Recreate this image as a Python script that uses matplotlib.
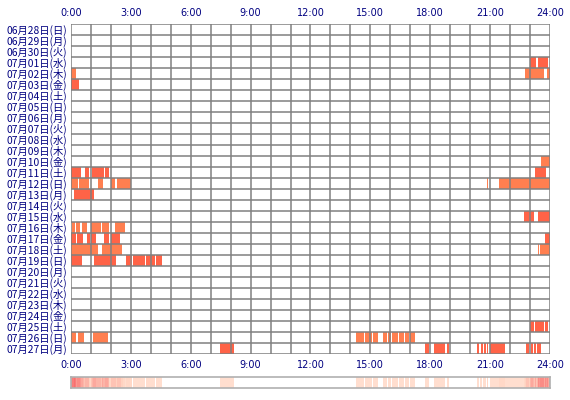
import numpy as np
import matplotlib
matplotlib.use('Agg')
import matplotlib.pyplot as plt
from matplotlib.colors import LinearSegmentedColormap

plt.rcParams['font.family'] = ['Noto Sans CJK JP', 'DejaVu Sans']

# 日付ラベル
days = ['06月28日(日)', '06月29日(月)', '06月30日(火)', '07月01日(水)', '07月02日(木)',
        '07月03日(金)', '07月04日(土)', '07月05日(日)', '07月06日(月)', '07月07日(火)',
        '07月08日(水)', '07月09日(木)', '07月10日(金)', '07月11日(土)', '07月12日(日)',
        '07月13日(月)', '07月14日(火)', '07月15日(水)', '07月16日(木)', '07月17日(金)',
        '07月18日(土)', '07月19日(日)', '07月20日(月)', '07月21日(火)', '07月22日(水)',
        '07月23日(木)', '07月24日(金)', '07月25日(土)', '07月26日(日)', '07月27日(月)']

# 各日の活動時間帯 (開始時, 終了時)
sessions = [
    [], [], [],
    [(23.0, 23.3), (23.4, 23.9)],
    [(0.0, 0.25), (22.75, 23.7), (23.85, 24.0)],
    [(0.0, 0.38)],
    [], [], [], [], [], [],
    [(23.55, 24.0)],
    [(0.0, 0.5), (0.7, 0.9), (1.03, 1.67), (1.7, 1.9), (23.25, 23.8)],
    [(0.0, 0.35), (0.4, 0.9), (1.35, 1.6), (1.98, 2.18), (2.3, 3.03),
     (20.83, 20.9), (21.45, 24.0)],
    [(0.15, 1.15)],
    [],
    [(22.7, 23.2), (23.4, 24.0)],
    [(0.07, 0.2), (0.27, 0.45), (0.57, 0.8), (1.0, 1.48), (1.55, 1.88), (2.2, 2.7)],
    [(0.0, 0.23), (0.3, 0.58), (0.8, 0.93), (1.0, 1.23), (1.65, 1.78), (1.82, 1.88),
     (1.98, 2.48), (23.75, 24.0)],
    [(0.0, 1.33), (1.55, 2.58), (23.4, 23.43), (23.5, 24.0)],
    [(0.0, 0.55), (1.15, 2.25), (2.75, 3.05), (3.1, 3.7), (3.75, 4.2), (4.25, 4.55)],
    [], [], [], [], [],
    [(23.0, 23.2), (23.25, 23.7), (23.75, 23.9)],
    [(0.0, 0.25), (0.35, 0.65), (1.1, 1.85),
     (14.3, 14.68), (14.75, 15.07), (15.15, 15.38), (15.62, 15.83), (15.9, 16.03),
     (16.1, 16.38), (16.45, 16.67), (16.72, 16.92), (16.97, 17.25)],
    [(7.45, 8.15), (17.72, 17.95), (18.17, 18.75), (18.82, 18.95),
     (20.35, 20.45), (20.52, 20.62), (20.67, 20.78), (20.83, 20.9), (20.98, 21.75),
     (22.82, 22.95), (23.03, 23.17), (23.22, 23.28), (23.37, 23.57)],
]

hour_ticks = [0, 3, 6, 9, 12, 15, 18, 21, 24]
hour_labels = ['0:00', '3:00', '6:00', '9:00', '12:00', '15:00', '18:00', '21:00', '24:00']

navy = '#000080'
grid_col = '#808080'

fig = plt.figure(figsize=(5.7, 4.0), dpi=100)
ax = fig.add_axes([71 / 570, 1 - 354 / 400, 479 / 570, 330 / 400])

for i, segs in enumerate(sessions):
    # 偶数行はコーラル、奇数行はトマト色
    col = '#FF7F50' if i % 2 == 0 else '#FF6347'
    if segs:
        ax.broken_barh([(s, e - s) for s, e in segs], (i, 1), facecolors=col, lw=0)

ax.set_xlim(0, 24)
ax.set_ylim(len(days), 0)
for h in range(25):
    ax.axvline(h, color=grid_col, lw=1.1, zorder=3)
for r in range(len(days) + 1):
    ax.axhline(r, color=grid_col, lw=1.1, zorder=3)
for s in ax.spines.values():
    s.set_visible(False)

ax.set_yticks(np.arange(len(days)) + 0.5)
ax.set_yticklabels(days, color=navy, fontsize=7.4)
ax.set_xticks(hour_ticks)
ax.set_xticklabels(hour_labels, color=navy, fontsize=7, family='DejaVu Sans')
ax.tick_params(axis='y', length=0, pad=3)
ax.tick_params(axis='x', length=0, top=True, labeltop=True, pad=4)
for t in ax.xaxis.get_major_ticks():
    t.label2.set_y(1.0)
ax.xaxis.set_tick_params(which='major', pad=4)

# 時間帯ごとの頻度バー
minutes = np.arange(24 * 60) / 60.0 + 1 / 120
counts = np.zeros(len(minutes))
for segs in sessions:
    for s, e in segs:
        counts += (minutes >= s) & (minutes < e)

cmap = LinearSegmentedColormap.from_list(
    'dens', [(0, '#FFFFFF'), (0.01, '#FFE4D6'), (0.3, '#FFD2C0'), (1, '#F87070')])
bx = fig.add_axes([71 / 570, 1 - 388 / 400, 479 / 570, 11 / 400])
bx.imshow(counts[np.newaxis, :], aspect='auto', cmap=cmap, vmin=0, vmax=counts.max(),
          extent=(0, 24, 0, 1), interpolation='nearest')
bx.set_xticks([])
bx.set_yticks([])
for s in bx.spines.values():
    s.set_color('#B0B0B0')
    s.set_linewidth(1.2)

fig.savefig('out.png', dpi=100)
